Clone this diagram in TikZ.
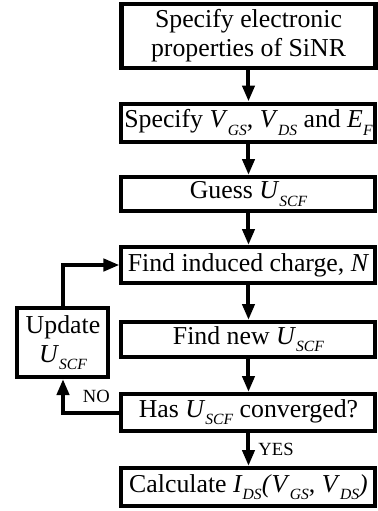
\documentclass[tikz,border=0pt]{standalone}
\usepackage{fontspec}
\setmainfont{Liberation Serif}
\usetikzlibrary{arrows.meta, positioning}
\definecolor{DK}{RGB}{0,0,0}
\newcommand{\qty}[2]{\textit{#1}\raisebox{-0.6ex}{\fontsize{7.8}{8}\selectfont\textit{#2}}}

\tikzset{
  stepbox/.style={draw=DK, line width=2pt, minimum width=127pt, inner sep=0pt,
    align=center, font=\fontsize{12.9}{14.5}\selectfont},
  flow/.style={draw=DK, line width=2pt, -{Triangle[length=8pt, width=6pt]}},
  tag/.style={font=\fontsize{9.3}{10}\selectfont, inner sep=1pt}
}

\begin{document}
\begin{tikzpicture}[x=0.5pt, y=-0.5pt]
\useasboundingbox (0,0) rectangle (378,511);

% Main column
\node[stepbox, line width=2.4pt, minimum height=32pt] (props) at (248.5, 36)
  {Specify electronic\\properties of SiNR};
\node[stepbox, minimum height=19pt] (bias) at (248.5, 122.5)
  {Specify \qty{V}{GS}, \qty{V}{DS} and \qty{E}{F}};
\node[stepbox, minimum height=17pt] (guess) at (248.5, 194)
  {Guess \qty{U}{SCF}};
\node[stepbox, minimum height=18pt] (charge) at (248.5, 265)
  {Find induced charge, \textit{N}};
\node[stepbox, minimum height=17.5pt] (newu) at (248.5, 339.5)
  {Find new \qty{U}{SCF}};
\node[stepbox, minimum height=18.5pt] (conv) at (248.5, 412.5)
  {Has \qty{U}{SCF} converged?};
\node[stepbox, minimum height=19pt] (ids) at (248.5, 487)
  {Calculate \qty{I}{DS}\textit{(}\qty{V}{GS}, \qty{V}{DS}\textit{)}};

% Loop box
\node[stepbox, minimum width=45.5pt, minimum height=34.5pt] (upd) at (63, 342.5)
  {Update\\\qty{U}{SCF}};

% Arrows
\draw[flow] (props) -- (bias);
\draw[flow] (bias) -- (guess);
\draw[flow] (guess) -- (charge);
\draw[flow] (charge) -- (newu);
\draw[flow] (newu) -- (conv);
\draw[flow] (conv) -- node[tag, right=3pt] {YES} (ids);
\draw[flow] (conv.west) -| node[tag, pos=0.5, above right=3pt and 8pt] {NO} (upd.south);
\draw[flow] (upd.north) |- (charge.west);
\end{tikzpicture}
\end{document}
